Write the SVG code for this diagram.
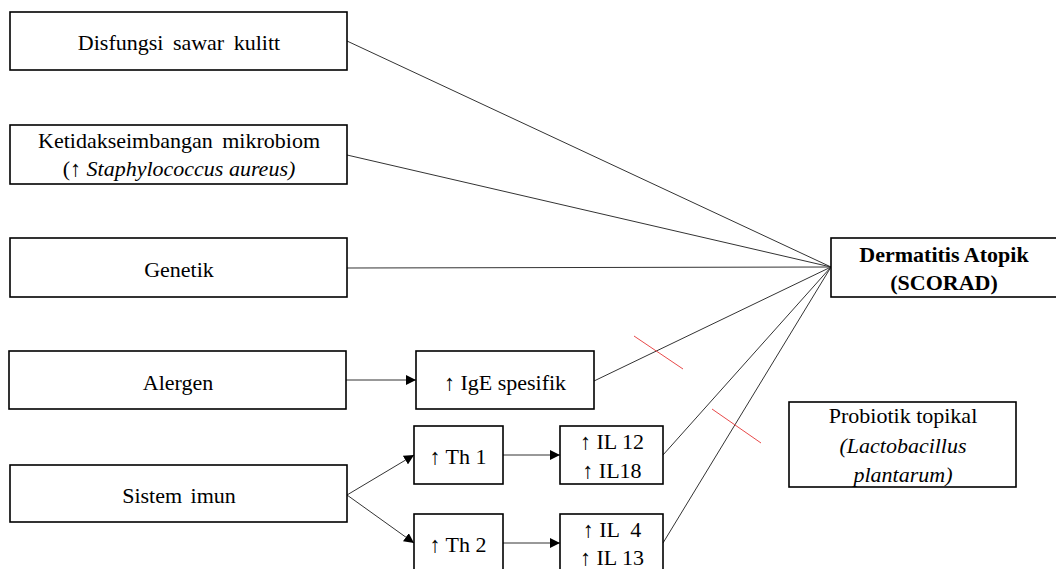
<svg xmlns="http://www.w3.org/2000/svg" width="1056" height="569" viewBox="0 0 1056 569">
<defs>
<style>
.box{fill:#fff;stroke:#000;stroke-width:1.6}
.t{font-size:22px;fill:#000;text-anchor:middle}
.b{font-weight:bold}
.i{font-style:italic}
.ln{stroke:#333;stroke-width:1;fill:none}
.red{stroke:#e84a4a;stroke-width:1;fill:none}
</style>
<marker id="ah" viewBox="0 0 10 10" refX="10" refY="5" markerWidth="10" markerHeight="10" markerUnits="userSpaceOnUse" orient="auto">
<path d="M0,0 L10,5 L0,10 z" fill="#000"/>
</marker>
</defs>
<rect width="1056" height="569" fill="#fff"/>
<g id="connectors">
<line class="ln" x1="347" y1="41" x2="831" y2="267"/>
<line class="ln" x1="347" y1="155" x2="831" y2="267"/>
<line class="ln" x1="347" y1="268" x2="831" y2="267"/>
<line class="ln" x1="594" y1="381" x2="831" y2="267"/>
<line class="ln" x1="663" y1="455" x2="831" y2="267"/>
<line class="ln" x1="663" y1="543" x2="831" y2="267"/>
<line class="ln" x1="346" y1="380" x2="416" y2="380" marker-end="url(#ah)"/>
<line class="ln" x1="347" y1="495" x2="414" y2="455" marker-end="url(#ah)"/>
<line class="ln" x1="347" y1="495" x2="414" y2="543" marker-end="url(#ah)"/>
<line class="ln" x1="503" y1="455" x2="560" y2="455" marker-end="url(#ah)"/>
<line class="ln" x1="503" y1="543" x2="560" y2="543" marker-end="url(#ah)"/>
<line class="red" x1="634" y1="336" x2="683" y2="369"/>
<line class="red" x1="712" y1="409" x2="761" y2="443"/>
</g>
<g font-family="'Liberation Serif', 'DejaVu Serif', serif">
<g id="disfungsi"><rect class="box" x="10" y="12" width="337" height="58"/><text class="t" x="179" y="50" word-spacing="4">Disfungsi sawar kulitt</text></g>
<g id="mikrobiom"><rect class="box" x="10" y="125" width="337" height="59"/><text class="t" x="179" y="148" word-spacing="4">Ketidakseimbangan mikrobiom</text><text class="t" x="179" y="176">(↑ <tspan class="i">Staphylococcus aureus)</tspan></text></g>
<g id="genetik"><rect class="box" x="10" y="238" width="337" height="59"/><text class="t" x="179" y="277">Genetik</text></g>
<g id="alergen"><rect class="box" x="9" y="351" width="337" height="58"/><text class="t" x="178" y="390">Alergen</text></g>
<g id="sistem"><rect class="box" x="10" y="465" width="337" height="57"/><text class="t" x="179" y="503" word-spacing="3">Sistem imun</text></g>
<g id="ige"><rect class="box" x="416" y="351" width="178" height="58"/><text class="t" x="505" y="390">↑ IgE spesifik</text></g>
<g id="th1"><rect class="box" x="414" y="426" width="89" height="58"/><text class="t" x="458" y="464">↑ Th 1</text></g>
<g id="il12"><rect class="box" x="560" y="426" width="103" height="58"/><text class="t" x="612" y="449">↑ IL 12</text><text class="t" x="612" y="478">↑ IL18</text></g>
<g id="th2"><rect class="box" x="414" y="514" width="89" height="60"/><text class="t" x="458" y="552">↑ Th 2</text></g>
<g id="il4"><rect class="box" x="560" y="514" width="103" height="60"/><text class="t" x="612" y="537" xml:space="preserve">↑ IL  4</text><text class="t" x="612" y="565">↑ IL 13</text></g>
<g id="dermatitis"><rect class="box" x="831" y="238" width="235" height="59"/><text class="t b" x="944" y="262">Dermatitis Atopik</text><text class="t b" x="944" y="290">(SCORAD)</text></g>
<g id="probiotik"><rect class="box" x="789" y="402" width="227" height="85"/><text class="t" x="903" y="423">Probiotik topikal</text><text class="t i" x="903" y="453">(Lactobacillus</text><text class="t i" x="903" y="482">plantarum)</text></g>
</g>
</svg>
